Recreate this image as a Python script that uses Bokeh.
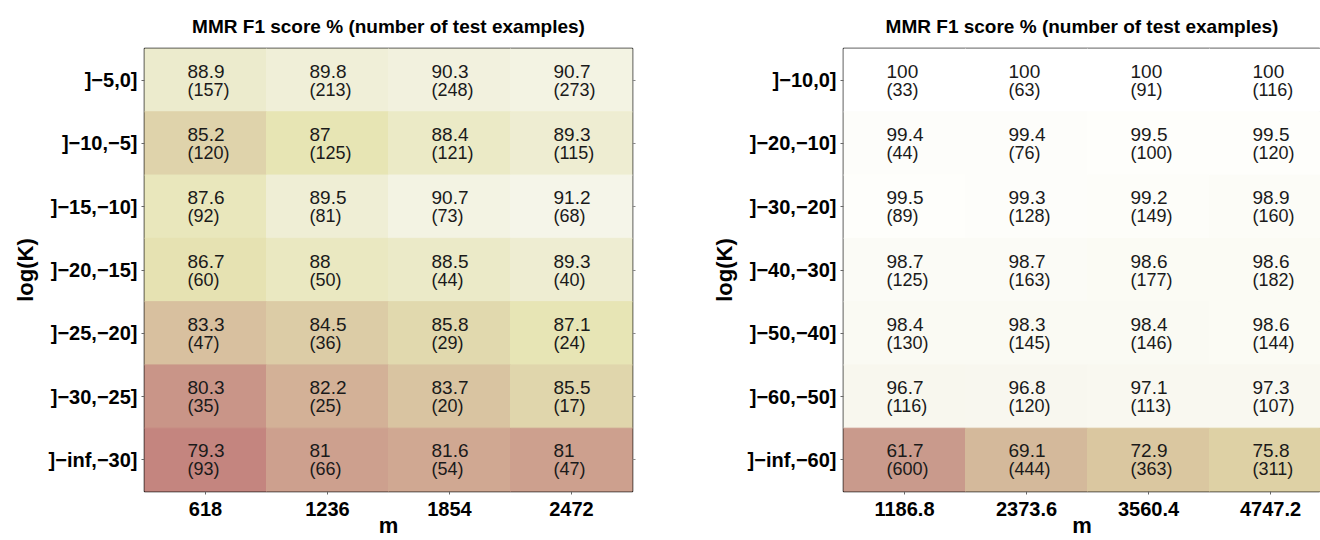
import numpy as np
from bokeh.plotting import figure
from bokeh.models import ColumnDataSource, Range1d, FixedTicker, LinearColorMapper, LinearAxis
from bokeh.layouts import row
from bokeh.embed import file_html
from bokeh.resources import INLINE
from bokeh.core.properties import value

TITLE = "MMR F1 score % (number of test examples)"

# ---------------- data ----------------
left_m = ["618", "1236", "1854", "2472"]
left_k = ["]−5,0]", "]−10,−5]", "]−15,−10]", "]−20,−15]", "]−25,−20]", "]−30,−25]", "]−inf,−30]"]
left_f1 = [
    [88.9, 89.8, 90.3, 90.7],
    [85.2, 87.0, 88.4, 89.3],
    [87.6, 89.5, 90.7, 91.2],
    [86.7, 88.0, 88.5, 89.3],
    [83.3, 84.5, 85.8, 87.1],
    [80.3, 82.2, 83.7, 85.5],
    [79.3, 81.0, 81.6, 81.0],
]
left_n = [
    [157, 213, 248, 273],
    [120, 125, 121, 115],
    [92, 81, 73, 68],
    [60, 50, 44, 40],
    [47, 36, 29, 24],
    [35, 25, 20, 17],
    [93, 66, 54, 47],
]

right_m = ["1186.8", "2373.6", "3560.4", "4747.2"]
right_k = ["]−10,0]", "]−20,−10]", "]−30,−20]", "]−40,−30]", "]−50,−40]", "]−60,−50]", "]−inf,−60]"]
right_f1 = [
    [100, 100, 100, 100],
    [99.4, 99.4, 99.5, 99.5],
    [99.5, 99.3, 99.2, 98.9],
    [98.7, 98.7, 98.6, 98.6],
    [98.4, 98.3, 98.4, 98.6],
    [96.7, 96.8, 97.1, 97.3],
    [61.7, 69.1, 72.9, 75.8],
]
right_n = [
    [33, 63, 91, 116],
    [44, 76, 100, 120],
    [89, 128, 149, 160],
    [125, 163, 177, 182],
    [130, 145, 146, 144],
    [116, 120, 113, 107],
    [600, 444, 363, 311],
]

# ---------------- colour ramps (style) ----------------
left_stops = [(0.0, "#C4857F"), (0.14, "#CDA08E"), (0.34, "#D8C09F"), (0.5, "#DFD4AB"),
              (0.65, "#E7E5B4"), (0.8, "#ECEBCC"), (1.0, "#F5F5E9")]
right_stops = [(0.0, "#C99A8C"), (0.19, "#D4B99B"), (0.29, "#DAC7A0"), (0.37, "#DED1A5"),
               (0.91, "#F8F7EE"), (0.96, "#FAFAF3"), (1.0, "#FFFFFF")]


def ramp(stops, n=256):
    ts = [s[0] for s in stops]
    rgb = np.array([[int(h[i:i + 2], 16) for i in (1, 3, 5)] for _, h in stops], float)
    out = []
    for t in np.linspace(0, 1, n):
        c = [np.interp(t, ts, rgb[:, k]) for k in range(3)]
        out.append("#%02x%02x%02x" % tuple(int(round(x)) for x in c))
    return out


FONT = "Liberation Sans"


def panel(ms, ks, f1, cnt, stops, width, mb_left, mb_right, x_end, right_ticks):
    nr, nc = len(ks), len(ms)
    xs, ys, vals, labs, cnts = [], [], [], [], []
    for i in range(nr):
        for j in range(nc):
            xs.append(j + 0.5)
            ys.append(nr - 1 - i + 0.5)
            vals.append(f1[i][j])
            labs.append(f"{f1[i][j]:g}")
            cnts.append(f"({cnt[i][j]})")
    src = ColumnDataSource(dict(x=xs, y=ys, v=vals, lab=labs, cnt=cnts))

    p = figure(width=width, height=540, x_range=Range1d(0, x_end), y_range=Range1d(0, nr),
               output_backend="svg", toolbar_location=None, title=TITLE,
               min_border_left=mb_left, min_border_right=mb_right,
               min_border_top=48, min_border_bottom=48)
    mapper = LinearColorMapper(palette=ramp(stops), low=min(vals), high=max(vals))
    p.rect(x="x", y="y", width=1, height=1, source=src,
           fill_color={"field": "v", "transform": mapper},
           line_color={"field": "v", "transform": mapper}, line_width=1)
    p.text(x="x", y="y", text="lab", source=src, x_offset=-18, y_offset=-9,
           text_align="left", text_baseline="alphabetic", text_font=value(FONT),
           text_font_size="19px", text_color="#1a1a1a")
    p.text(x="x", y="y", text="cnt", source=src, x_offset=-18, y_offset=9.5,
           text_align="left", text_baseline="alphabetic", text_font=value(FONT),
           text_font_size="18px", text_color="#1a1a1a")

    p.grid.visible = False
    p.outline_line_color = "black"
    p.outline_line_width = 1.5
    p.background_fill_color = "white"
    p.border_fill_color = "white"

    p.title.text_font = FONT
    p.title.text_font_size = "19px"
    p.title.text_font_style = "bold"
    p.title.text_color = "black"
    p.title.align = "center"
    p.title.standoff = 24

    xt = [j + 0.5 for j in range(nc)]
    yt = [nr - 1 - i + 0.5 for i in range(nr)]
    p.xaxis.ticker = FixedTicker(ticks=xt)
    p.xaxis.major_label_overrides = {xt[j]: ms[j] for j in range(nc)}
    p.yaxis.ticker = FixedTicker(ticks=yt)
    p.yaxis.major_label_overrides = {yt[i]: ks[i] for i in range(nr)}
    p.xaxis.axis_label = "m"
    p.yaxis.axis_label = "log(K)"
    for ax in (p.xaxis, p.yaxis):
        ax.axis_line_color = None
        ax.major_tick_in = 0
        ax.major_tick_out = 3
        ax.major_tick_line_color = "#666666"
        ax.minor_tick_line_color = None
        ax.major_label_text_font = FONT
        ax.major_label_text_font_size = "20px"
        ax.major_label_text_font_style = "bold"
        ax.major_label_text_color = "black"
        ax.axis_label_text_font = FONT
        ax.axis_label_text_font_size = "22px"
        ax.axis_label_text_font_style = "bold"
        ax.axis_label_text_color = "black"
    p.yaxis.major_label_standoff = 4
    p.yaxis.axis_label_standoff = 8
    p.xaxis.major_label_standoff = 7
    p.xaxis.axis_label_standoff = -6

    if right_ticks:
        ra = LinearAxis(ticker=FixedTicker(ticks=yt), axis_line_color=None,
                        major_tick_in=0, major_tick_out=3, major_tick_line_color="#888888",
                        minor_tick_line_color=None, major_label_standoff=0,
                        major_label_overrides={t: "" for t in yt})
        p.add_layout(ra, "right")
    return p


p1 = panel(left_m, left_k, left_f1, left_n, left_stops, 676, 144, 44, 4, True)
p2 = panel(right_m, right_k, right_f1, right_n, right_stops, 644, 167, 0, 477 / 122, False)

layout = row(p1, p2)
open("out.html", "w").write(file_html(layout, INLINE))
